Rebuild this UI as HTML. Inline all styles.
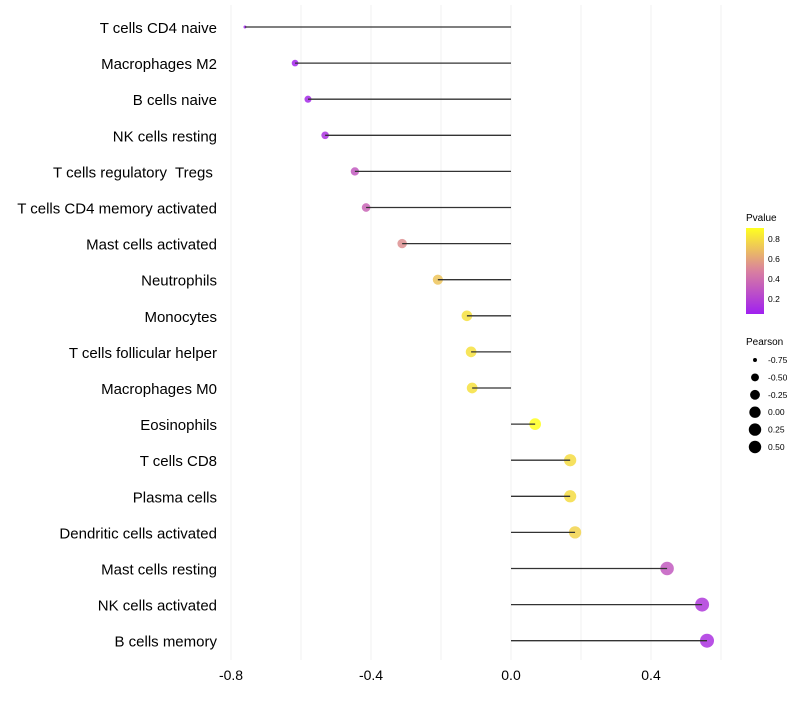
<!DOCTYPE html>
<html><head><meta charset="utf-8"><style>
body{margin:0;background:#fff;font-family:"Liberation Sans",sans-serif}
text{white-space:pre}
</style></head><body>
<svg id="chart" width="800" height="700" xmlns="http://www.w3.org/2000/svg" font-family="Liberation Sans, sans-serif" xml:space="preserve">
<defs><linearGradient id="pg" x1="0" y1="1" x2="0" y2="0">
<stop offset="0" stop-color="#a020f0"/><stop offset="0.5" stop-color="#d9809f"/><stop offset="1" stop-color="#ffff20"/></linearGradient></defs>
<g id="grid"></g><g id="marks"></g><g id="ylabels"></g><g id="xlabels"></g>
<g>
<text x="746" y="221" font-size="10" fill="#000">Pvalue</text>
<rect x="746" y="228" width="18" height="86" fill="url(#pg)"/>
<text x="768" y="242" font-size="8.5">0.8</text><text x="768" y="262" font-size="8.5">0.6</text>
<text x="768" y="282" font-size="8.5">0.4</text><text x="768" y="302" font-size="8.5">0.2</text>
<text x="746" y="345" font-size="10">Pearson</text>
<g id="sizeleg"></g>
</g>
</svg>
<script>
const categories=["T cells CD4 naive","Macrophages M2","B cells naive","NK cells resting","T cells regulatory  Tregs ","T cells CD4 memory activated","Mast cells activated","Neutrophils","Monocytes","T cells follicular helper","Macrophages M0","Eosinophils","T cells CD8","Plasma cells","Dendritic cells activated","Mast cells resting","NK cells activated","B cells memory"];
const pearson=[-0.76,-0.617,-0.58,-0.531,-0.446,-0.414,-0.311,-0.209,-0.126,-0.114,-0.111,0.069,0.169,0.169,0.183,0.446,0.546,0.56];
const pvalue=[0.04,0.06,0.08,0.12,0.3,0.35,0.52,0.7,0.8,0.8,0.8,0.9,0.78,0.78,0.75,0.3,0.15,0.12];
const xTicks=[-0.8,-0.4,0.0,0.4];
const xGrid=[-0.8,-0.6,-0.4,-0.2,0,0.2,0.4,0.6];
const sizeBreaks=[-0.75,-0.5,-0.25,0,0.25,0.5];
const NS="http://www.w3.org/2000/svg";
const x=v=>511+v*350;
const y=i=>27+i*36.1;
const pmin=Math.min(...pearson),pmax=Math.max(...pearson);
const rad=v=>{let t=Math.max(0,Math.min(1,(v-pmin)/(pmax-pmin)));return 1.5+5.5*Math.sqrt(t);};
function col(p){let t=(p-0.04)/(0.86);t=Math.max(0,Math.min(1,t));
 const s=[[160,32,240],[217,128,159],[255,255,32]];let a,b,u;
 if(t<0.5){a=s[0];b=s[1];u=t/0.5}else{a=s[1];b=s[2];u=(t-0.5)/0.5}
 return `rgb(${a.map((c,k)=>Math.round(c+(b[k]-c)*u)).join(',')})`;}
function mk(tag,at,parent){const e=document.createElementNS(NS,tag);for(const k in at)e.setAttribute(k,at[k]);document.getElementById(parent).appendChild(e);return e;}
xGrid.forEach(v=>{const l=mk('line',{x1:x(v),x2:x(v),y1:5,y2:660,stroke:'#f0f0f0','stroke-width':1},'grid');

});
xTicks.forEach(v=>{const t=mk('text',{x:x(v),y:680,'font-size':14,'text-anchor':'middle',fill:'#000'},'xlabels');t.textContent=v.toFixed(1);

});
categories.forEach((c,i)=>{
 const t=mk('text',{x:217,y:y(i)+6,'font-size':15,'text-anchor':'end',fill:'#000'},'ylabels');t.textContent=c;
 
 
 const d=mk('circle',{cx:x(pearson[i]),cy:y(i),r:rad(pearson[i]),fill:col(pvalue[i]),'fill-opacity':0.85},'marks');
 
 
 const l=mk('line',{x1:x(0),x2:x(pearson[i]),y1:y(i),y2:y(i),stroke:'#333','stroke-width':1.3},'marks');
 
 
});
sizeBreaks.forEach((v,i)=>{const cy=360+i*17.4;
 const c=mk('circle',{cx:755,cy:cy,r:Math.min(rad(v),6.2),fill:'#000'},'sizeleg');
 
 
 const t=mk('text',{x:768,y:cy+3,'font-size':8.5},'sizeleg');t.textContent=v.toFixed(2);
 
 });
</script>
</body></html>
